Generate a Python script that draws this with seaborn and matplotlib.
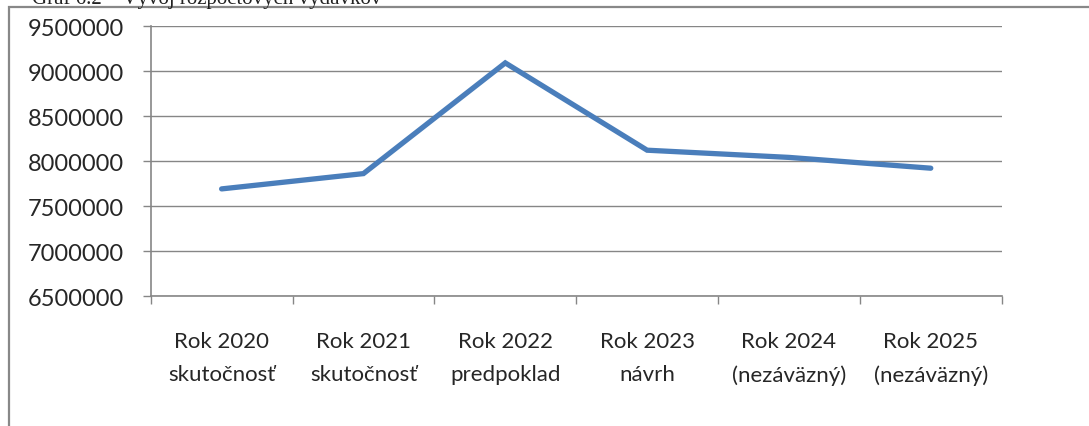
import pandas as pd
import matplotlib.pyplot as plt
import seaborn as sns
from matplotlib.patches import Rectangle
from matplotlib.ticker import FuncFormatter, FixedLocator

# Data
categories = [
    "Rok 2020\nskutočnosť",
    "Rok 2021\nskutočnosť",
    "Rok 2022\npredpoklad",
    "Rok 2023\nnávrh",
    "Rok 2024\n(nezáväzný)",
    "Rok 2025\n(nezáväzný)",
]
expenses = [7690000, 7860000, 9090000, 8120000, 8040000, 7920000]
y_ticks = [6500000, 7000000, 7500000, 8000000, 8500000, 9000000, 9500000]
title = "Graf 6.2 – Vývoj rozpočtových výdavkov"

df = pd.DataFrame({"pos": range(len(categories)), "value": expenses})

sns.set_theme(style="white")
plt.rcParams["font.family"] = ["Lato", "DejaVu Sans"]

grid_col = "#868686"
line_col = "#4A7EBB"

fig = plt.figure(figsize=(10.89, 4.27), dpi=100)
ax = fig.add_axes([150.7 / 1089, 130 / 427, 851 / 1089, 270 / 427])

sns.lineplot(data=df, x="pos", y="value", ax=ax, color=line_col,
             linewidth=3.8, solid_capstyle="round", solid_joinstyle="miter",
             sort=False)

ax.set_xlim(-0.5, len(categories) - 0.5)
ax.set_ylim(y_ticks[0], y_ticks[-1])
ax.set_yticks(y_ticks)
ax.yaxis.set_major_formatter(FuncFormatter(lambda v, p: f"{int(v)}"))
ax.yaxis.grid(True, color=grid_col, linewidth=1.0)
ax.set_axisbelow(True)

# boundary ticks on the x axis, labels centred between them
ax.xaxis.set_major_locator(FixedLocator([i - 0.5 for i in range(len(categories) + 1)]))
ax.set_xticklabels([""] * (len(categories) + 1))
ax.xaxis.set_minor_locator(FixedLocator(list(range(len(categories)))))
ax.set_xticklabels(categories, minor=True)
ax.tick_params(axis="x", which="major", length=6, width=1, color=grid_col, direction="out", bottom=True)
ax.tick_params(axis="x", which="minor", length=0, pad=25, labelsize=16)
ax.tick_params(axis="y", length=6, width=1, color=grid_col, direction="out", left=True, pad=13, labelsize=17)
for lab in ax.get_xticklabels(minor=True):
    lab.set_linespacing(1.8)

ax.set_xlabel("")
ax.set_ylabel("")
for side in ["top", "right"]:
    ax.spines[side].set_visible(False)
for side in ["left", "bottom"]:
    ax.spines[side].set_color(grid_col)
    ax.spines[side].set_linewidth(1.2)

# outer chart frame (runs off the right and bottom of the crop)
fig.patches.append(Rectangle((8.5 / 1089, -0.1), 1.2, 1 - 8 / 427 + 0.1,
                             transform=fig.transFigure, fill=False,
                             edgecolor="#888888", linewidth=1.6))

# caption above the frame, mostly cut off in the reference crop
fig.text(32 / 1089, 1 - 4 / 427, title, family="Liberation Serif",
         fontsize=15, va="baseline", ha="left", color="#222222")

fig.savefig("out.png", dpi=100)
